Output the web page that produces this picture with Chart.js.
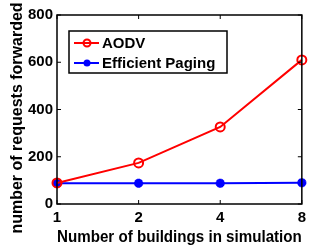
<!DOCTYPE html>
<html>
<head>
<meta charset="utf-8">
<script src="https://cdn.jsdelivr.net/npm/chart.js@4.4.0/dist/chart.umd.min.js"></script>
<style>
  html, body { margin: 0; padding: 0; background: #fff; }
  #wrap { width: 311px; height: 250px; }
</style>
</head>
<body>
<div id="wrap"><canvas id="chart" width="311" height="250"></canvas></div>
<script>
// chart data
const buildings = ['1', '2', '4', '8'];
const aodv = [89, 174, 326, 610];
const efficientPaging = [88, 88, 88, 90];
const yTicks = [0, 200, 400, 600, 800];
const yTitle = 'number of requests forwarded';

const FONT = 'Liberation Sans, Arial, sans-serif';

// box + inward ticks + legend + y title, MATLAB style
const matlabFrame = {
    id: 'matlabFrame',
    afterDatasetsDraw(chart) {
        const ctx = chart.ctx;
        const a = chart.chartArea;
        const xs = chart.scales.x, ys = chart.scales.y;
        ctx.save();
        ctx.strokeStyle = '#000';
        ctx.lineWidth = 1.5;
        ctx.strokeRect(a.left, a.top, a.right - a.left, a.bottom - a.top);
        ctx.lineWidth = 1;
        ctx.beginPath();
        buildings.forEach((b, i) => {
            const px = xs.getPixelForValue(i);
            ctx.moveTo(px, a.bottom); ctx.lineTo(px, a.bottom - 4);
            ctx.moveTo(px, a.top); ctx.lineTo(px, a.top + 4);
        });
        yTicks.forEach(v => {
            const py = ys.getPixelForValue(v);
            ctx.moveTo(a.left, py); ctx.lineTo(a.left + 4, py);
            ctx.moveTo(a.right, py); ctx.lineTo(a.right - 4, py);
        });
        ctx.stroke();

        // y axis title (sits a bit below the axis centre in the original)
        ctx.save();
        ctx.translate(18, 118);
        ctx.rotate(-Math.PI / 2);
        ctx.font = 'bold 16px ' + FONT;
        ctx.fillStyle = '#000';
        ctx.textAlign = 'center';
        ctx.textBaseline = 'middle';
        ctx.fillText(yTitle, 0, 0);
        ctx.restore();

        // legend
        const lx = 69, ly = 31, lw = 158, lh = 42;
        ctx.fillStyle = '#fff';
        ctx.fillRect(lx, ly, lw, lh);
        ctx.strokeStyle = '#000';
        ctx.lineWidth = 1.5;
        ctx.strokeRect(lx, ly, lw, lh);
        ctx.font = 'bold 15px ' + FONT;
        ctx.textBaseline = 'middle';
        chart.data.datasets.forEach((ds, i) => {
            const y = ly + 12 + i * 20;
            ctx.strokeStyle = ds.borderColor;
            ctx.lineWidth = 2;
            ctx.beginPath();
            ctx.moveTo(lx + 5, y); ctx.lineTo(lx + 30, y);
            ctx.stroke();
            ctx.beginPath();
            ctx.arc(lx + 18, y, 3.5, 0, Math.PI * 2);
            if (ds.pointStyle === 'circle') {
                ctx.stroke();
            } else {
                ctx.fillStyle = ds.borderColor;
                ctx.fill();
            }
            ctx.fillStyle = '#000';
            ctx.fillText(ds.label, lx + 33, y + 1);
        });
        ctx.restore();
    }
};

new Chart(document.getElementById('chart'), {
    type: 'line',
    data: {
        labels: buildings,
        datasets: [{
            label: 'AODV',
            data: aodv,
            borderColor: '#ff0000',
            backgroundColor: '#fff',
            borderWidth: 2,
            pointStyle: 'circle',
            pointRadius: 4.5,
            pointBorderWidth: 2,
            pointBackgroundColor: 'rgba(0,0,0,0)',
            pointBorderColor: '#ff0000',
            tension: 0
        }, {
            label: 'Efficient Paging',
            data: efficientPaging,
            borderColor: '#0000ff',
            backgroundColor: '#0000ff',
            borderWidth: 2,
            pointStyle: 'star',
            pointRadius: 4.5,
            pointBorderWidth: 3,
            pointBackgroundColor: '#0000ff',
            pointBorderColor: '#0000ff',
            tension: 0
        }]
    },
    options: {
        responsive: false,
        animation: false,
        layout: { padding: { top: 15, right: 7, left: 0, bottom: 0 } },
        plugins: { legend: { display: false }, tooltip: { enabled: false } },
        scales: {
            x: {
                type: 'category',
                offset: false,
                grid: { display: false, drawTicks: false },
                border: { display: false },
                afterFit(s) { s.height = 46; },
                ticks: { color: '#000', font: { family: FONT, size: 15, weight: 'bold' }, padding: 5, maxRotation: 0 },
                title: { display: true, text: 'Number of buildings in simulation', color: '#000',
                         font: { family: FONT, size: 16, weight: 'bold' }, padding: { top: 3, bottom: 3 } }
            },
            y: {
                min: 0, max: 800,
                afterBuildTicks(s) { s.ticks = yTicks.map(v => ({ value: v })); },
                afterFit(s) { s.width = 57; },
                grid: { display: false, drawTicks: false },
                border: { display: false },
                ticks: { color: '#000', font: { family: FONT, size: 15, weight: 'bold' }, padding: 4 },
                title: { display: false }
            }
        }
    },
    plugins: [matlabFrame]
});
</script>
</body>
</html>
